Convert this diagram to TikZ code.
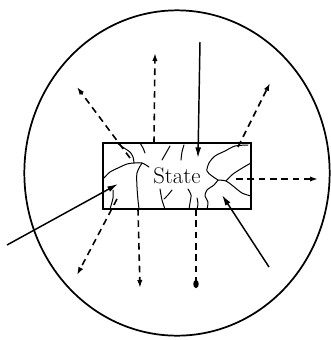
\documentclass[tikz,border=0pt]{standalone}
\usetikzlibrary{arrows.meta}

\begin{document}
\begin{tikzpicture}[x=0.75pt,y=-0.75pt,
    inflow/.style={line width=1.1pt,-{Latex[length=8pt,width=4.5pt]}},
    outflow/.style={line width=1.2pt,dash pattern=on 5pt off 3.5pt,-{Latex[length=6pt,width=4pt]}},
    crack/.style={line width=0.75pt,line join=round,line cap=round}]
    \useasboundingbox (0,0) rectangle (331,340);

    % Surrounding boundary
    \draw[line width=1.3pt] (177,173) ellipse [x radius=114.5pt, y radius=122pt];

    % The state box
    \node[draw,line width=1.5pt,minimum width=111pt,minimum height=49.5pt,inner sep=0pt,
          font=\fontsize{17}{20}\selectfont] (state) at (177,176) {State};

    % Ends of the incoming arrows
    \coordinate (topSrc) at (200,42);   % from above
    \coordinate (topTip) at (198,158);
    \coordinate (leftSrc) at (7,245);   % from the lower left
    \coordinate (leftTip) at (118,184);
    \coordinate (lrSrc) at (269,267);   % from the lower right
    \coordinate (lrTip) at (222,195);

    % Ends of the outgoing arrows
    \coordinate (upStart) at (154,143);   \coordinate (upEnd) at (155,53);
    \coordinate (ulStart) at (130,158);   \coordinate (ulEnd) at (77,87);
    \coordinate (urStart) at (238,147);   \coordinate (urEnd) at (270,83);
    \coordinate (rStart) at (236,179);    \coordinate (rEnd) at (318,179);
    \coordinate (llStart) at (117,199);   \coordinate (llEnd) at (77,275);
    \coordinate (dlStart) at (138,209);   \coordinate (dlEnd) at (140,288);
    \coordinate (drStart) at (196,209);   \coordinate (drEnd) at (196,288);

    % Cracks in the state
    \draw[crack] plot[smooth] coordinates {(117,143) (124,148) (130,152) (133,157) (134,163)};
    \draw[crack] plot[smooth] coordinates {(103,179) (110,172) (118,168) (127,164) (134,163) (142,163) (149,167)};
    \draw[crack] plot[smooth] coordinates {(142,163) (137,173) (137,187) (138,200) (139,209)};
    \draw[crack] plot[smooth] coordinates {(113,190) (113,198) (110,209)};
    \draw[crack] plot[smooth] coordinates {(140,143) (143,148) (145,153)};
    \draw[crack] plot[smooth] coordinates {(170,146) (166,153) (162,160)};
    \draw[crack] plot[smooth] coordinates {(184,145) (182,152) (181,160)};
    \draw[crack] plot[smooth] coordinates {(160,189) (162,200) (165,209)};
    \draw[crack] plot[smooth] coordinates {(172,190) (168,195) (164,199)};
    \draw[crack] plot[smooth] coordinates {(188,189) (191,195) (190,203) (189,209)};
    \draw[crack] plot[smooth] coordinates {(197,198) (198,204) (197,209)};
    \draw[crack] plot[smooth] coordinates {(248,145) (235,146) (225,151) (215,156) (209,163) (207,171) (212,176) (218,180)};
    \draw[crack] plot[smooth] coordinates {(218,180) (226,181) (233,186) (242,193) (251,196)};
    \draw[crack] plot[smooth] coordinates {(226,181) (233,174) (244,167) (251,163)};
    \draw[crack] plot[smooth] coordinates {(218,180) (214,185) (207,190) (205,196) (208,202) (207,209)};

    % Incoming flows
    \draw[inflow] (topSrc) -- (topTip);
    \draw[inflow] (leftSrc) -- (leftTip);
    \draw[inflow] (lrSrc) -- (lrTip);

    % Outgoing flows
    \draw[outflow] (upStart) -- (upEnd);
    \draw[outflow] (ulStart) -- (ulEnd);
    \draw[outflow] (urStart) -- (urEnd);
    \draw[outflow] (rStart) -- (rEnd);
    \draw[outflow] (llStart) -- (llEnd);
    \draw[outflow] (dlStart) -- (dlEnd);
    \draw[outflow,-{Ellipse[length=6pt,width=4pt]}] (drStart) -- (drEnd);

\end{tikzpicture}
\end{document}
